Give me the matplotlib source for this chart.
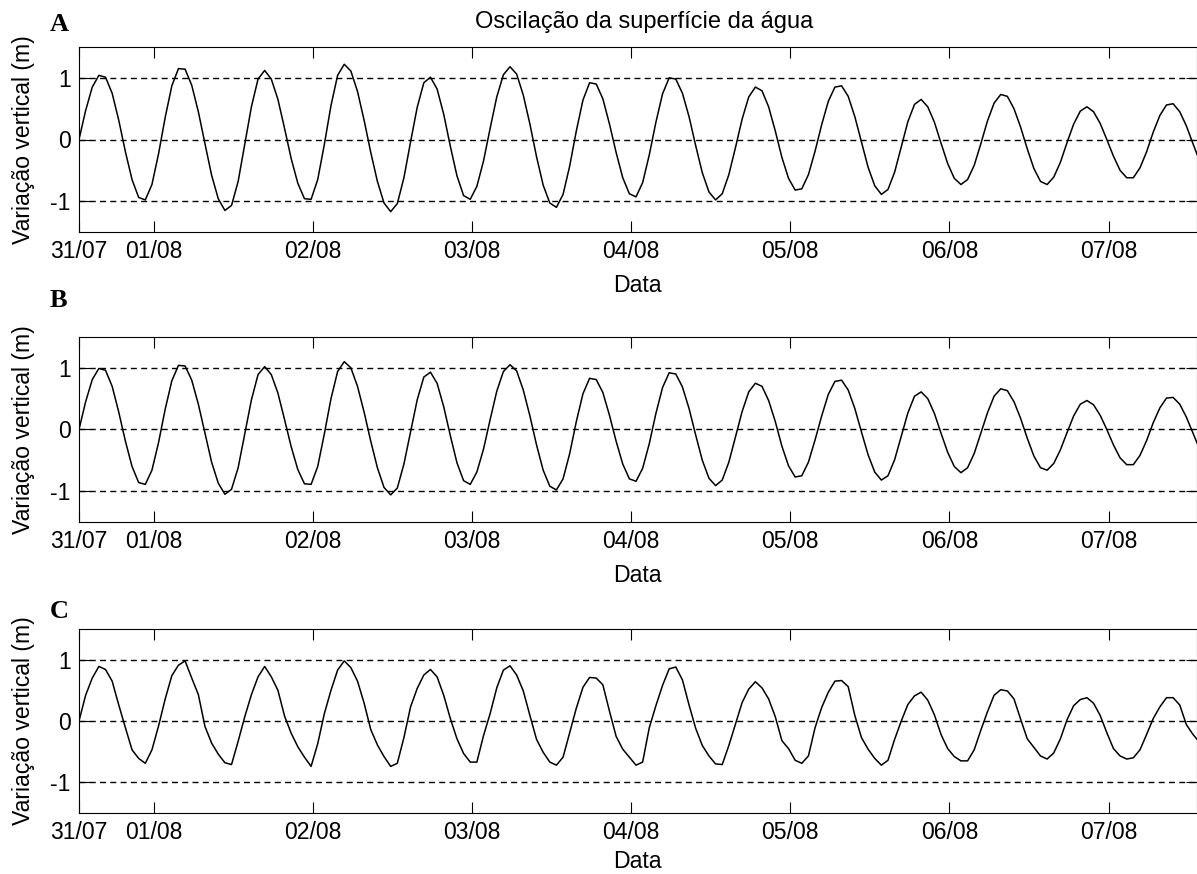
import numpy as np
import matplotlib
matplotlib.use('Agg')
import matplotlib.pyplot as plt
import matplotlib.dates as mdates
from datetime import datetime, timedelta


#%% dados (nivel horario, m)
inicio = datetime(2011, 7, 31, 12, 44)
duracao_h = 168.6

nivel_A = [0.00, 0.47, 0.85, 1.04, 1.01, 0.75, 0.31, -0.20, -0.65, -0.94,
           -0.98, -0.73, -0.23, 0.36, 0.87, 1.15, 1.14, 0.88, 0.45, -0.07,
           -0.58, -0.96, -1.15, -1.07, -0.68, -0.08, 0.53, 0.98, 1.12, 0.98,
           0.65, 0.18, -0.31, -0.71, -0.96, -0.97, -0.65, -0.08, 0.55, 1.04,
           1.22, 1.11, 0.78, 0.31, -0.21, -0.68, -1.03, -1.17, -1.04, -0.62,
           -0.04, 0.52, 0.92, 1.01, 0.82, 0.41, -0.11, -0.59, -0.91, -0.97,
           -0.76, -0.35, 0.18, 0.69, 1.05, 1.18, 1.06, 0.72, 0.25, -0.28,
           -0.74, -1.03, -1.10, -0.89, -0.43, 0.14, 0.64, 0.92, 0.90, 0.66,
           0.25, -0.21, -0.62, -0.88, -0.93, -0.70, -0.25, 0.28, 0.74, 1.00,
           0.98, 0.75, 0.37, -0.10, -0.54, -0.85, -0.98, -0.88, -0.57, -0.13,
           0.33, 0.69, 0.85, 0.79, 0.53, 0.14, -0.29, -0.63, -0.82, -0.80,
           -0.57, -0.19, 0.24, 0.62, 0.85, 0.87, 0.70, 0.37, -0.04, -0.45,
           -0.75, -0.89, -0.81, -0.53, -0.12, 0.29, 0.57, 0.65, 0.53, 0.28,
           -0.06, -0.39, -0.63, -0.73, -0.65, -0.42, -0.07, 0.30, 0.59, 0.73,
           0.70, 0.50, 0.20, -0.15, -0.47, -0.68, -0.73, -0.61, -0.37, -0.05,
           0.25, 0.46, 0.53, 0.45, 0.26, 0.00, -0.27, -0.50, -0.62, -0.62,
           -0.46, -0.20, 0.12, 0.39, 0.56, 0.58, 0.45, 0.22, -0.07, -0.35]

nivel_B = [0.00, 0.45, 0.81, 0.99, 0.96, 0.70, 0.28, -0.19, -0.60, -0.86,
           -0.89, -0.66, -0.21, 0.33, 0.79, 1.04, 1.03, 0.80, 0.41, -0.06,
           -0.53, -0.87, -1.05, -0.97, -0.62, -0.07, 0.48, 0.89, 1.02, 0.89,
           0.59, 0.16, -0.28, -0.65, -0.88, -0.89, -0.60, -0.07, 0.50, 0.94,
           1.10, 1.00, 0.70, 0.28, -0.19, -0.62, -0.94, -1.06, -0.95, -0.56,
           -0.04, 0.48, 0.85, 0.93, 0.75, 0.37, -0.10, -0.54, -0.83, -0.89,
           -0.69, -0.32, 0.16, 0.62, 0.94, 1.05, 0.95, 0.64, 0.22, -0.25,
           -0.66, -0.92, -0.98, -0.80, -0.39, 0.13, 0.58, 0.83, 0.81, 0.60,
           0.23, -0.19, -0.56, -0.80, -0.84, -0.63, -0.23, 0.26, 0.68, 0.92,
           0.90, 0.69, 0.34, -0.09, -0.50, -0.79, -0.91, -0.82, -0.53, -0.12,
           0.29, 0.61, 0.75, 0.70, 0.47, 0.13, -0.27, -0.59, -0.77, -0.75,
           -0.53, -0.17, 0.22, 0.57, 0.78, 0.80, 0.64, 0.34, -0.04, -0.41,
           -0.69, -0.82, -0.75, -0.49, -0.11, 0.27, 0.54, 0.61, 0.50, 0.26,
           -0.06, -0.37, -0.60, -0.70, -0.62, -0.39, -0.06, 0.27, 0.54, 0.66,
           0.63, 0.45, 0.18, -0.14, -0.43, -0.62, -0.66, -0.55, -0.33, -0.05,
           0.22, 0.41, 0.47, 0.40, 0.23, 0.00, -0.25, -0.46, -0.57, -0.57,
           -0.42, -0.18, 0.11, 0.35, 0.51, 0.52, 0.41, 0.20, -0.06, -0.32]

nivel_C = [0.00, 0.42, 0.70, 0.89, 0.84, 0.65, 0.26, -0.11, -0.47, -0.61,
           -0.69, -0.47, -0.08, 0.36, 0.74, 0.91, 0.98, 0.70, 0.43, -0.09,
           -0.36, -0.54, -0.68, -0.71, -0.33, 0.07, 0.43, 0.72, 0.89, 0.72,
           0.50, 0.08, -0.20, -0.42, -0.59, -0.74, -0.37, 0.12, 0.50, 0.83,
           0.98, 0.87, 0.65, 0.29, -0.14, -0.39, -0.58, -0.74, -0.69, -0.27,
           0.23, 0.53, 0.75, 0.84, 0.72, 0.42, 0.04, -0.29, -0.53, -0.67,
           -0.67, -0.24, 0.12, 0.54, 0.83, 0.90, 0.75, 0.49, 0.09, -0.30,
           -0.51, -0.67, -0.72, -0.59, -0.19, 0.21, 0.55, 0.71, 0.70, 0.59,
           0.16, -0.25, -0.46, -0.59, -0.72, -0.67, -0.11, 0.25, 0.58, 0.85,
           0.88, 0.67, 0.26, -0.12, -0.40, -0.57, -0.70, -0.71, -0.40, -0.05,
           0.30, 0.52, 0.64, 0.54, 0.36, 0.07, -0.32, -0.45, -0.64, -0.69,
           -0.57, -0.11, 0.22, 0.47, 0.65, 0.66, 0.56, 0.09, -0.27, -0.46,
           -0.61, -0.72, -0.64, -0.30, 0.00, 0.27, 0.41, 0.47, 0.34, 0.10,
           -0.22, -0.45, -0.58, -0.65, -0.65, -0.47, -0.15, 0.15, 0.42, 0.51,
           0.49, 0.36, 0.03, -0.29, -0.43, -0.57, -0.62, -0.52, -0.29, 0.02,
           0.25, 0.35, 0.38, 0.29, 0.09, -0.19, -0.45, -0.57, -0.62, -0.60,
           -0.47, -0.22, 0.04, 0.23, 0.38, 0.38, 0.26, -0.06, -0.22, -0.35]

letras = ['A', 'B', 'C']
yticks = [-1, 0, 1]
datas_tick = [inicio] + [datetime(2011, 8, d) for d in range(1, 8)]

tempo = [inicio + timedelta(hours=h) for h in range(len(nivel_A))]


#%% figura
W, H = 1197, 874
plt.rcParams['font.family'] = ['Liberation Sans', 'DejaVu Sans']
plt.rcParams['axes.unicode_minus'] = False
fig = plt.figure(figsize=(W / 100, H / 100), dpi=100)

# topo, base (px) de cada eixo, linha de base da letra, centro do "Data"
caixas = [(47, 232, 31, 285), (337, 522, 307, 575), (629, 813, 618, 862)]
fs = 16.6

for letra, nivel, (topo, base, ybase, ydata) in zip(letras, [nivel_A, nivel_B, nivel_C], caixas):
    ax = fig.add_axes([79 / W, 1 - base / H, (W - 79) / W, (base - topo) / H])
    ax.plot(tempo, nivel, color='k', lw=1.1)
    ax.set_xlim(inicio, inicio + timedelta(hours=duracao_h))
    ax.set_ylim(-1.5, 1.5)
    ax.set_yticks(yticks)
    ax.set_xticks(mdates.date2num(datas_tick))
    ax.xaxis.set_major_formatter(mdates.DateFormatter('%d/%m'))
    ax.yaxis.grid(True, linestyle=(0, (4.3, 3.1)), color='k', lw=1.0)
    ax.tick_params(direction='in', length=8, width=0.8, top=True, right=True,
                   labelsize=fs, pad=6)
    for s in ax.spines.values():
        s.set_linewidth(0.8)
    ax.set_xlabel('Data', fontsize=fs, va='center')
    ax.xaxis.set_label_coords((637 - 79) / (W - 79), -(ydata - base) / (base - topo))
    ax.set_ylabel('Variação vertical (m)', fontsize=fs, va='center')
    ax.yaxis.set_label_coords((24 - 79) / (W - 79), 0.5)
    fig.text(50 / W, 1 - ybase / H, letra, family=['Liberation Serif', 'DejaVu Serif'],
             weight='bold', fontsize=19, va='baseline', ha='left')

fig.text(644 / W, 1 - 28 / H, 'Oscilação da superfície da água', fontsize=17,
         ha='center', va='baseline')

fig.savefig('out.png', dpi=100)
